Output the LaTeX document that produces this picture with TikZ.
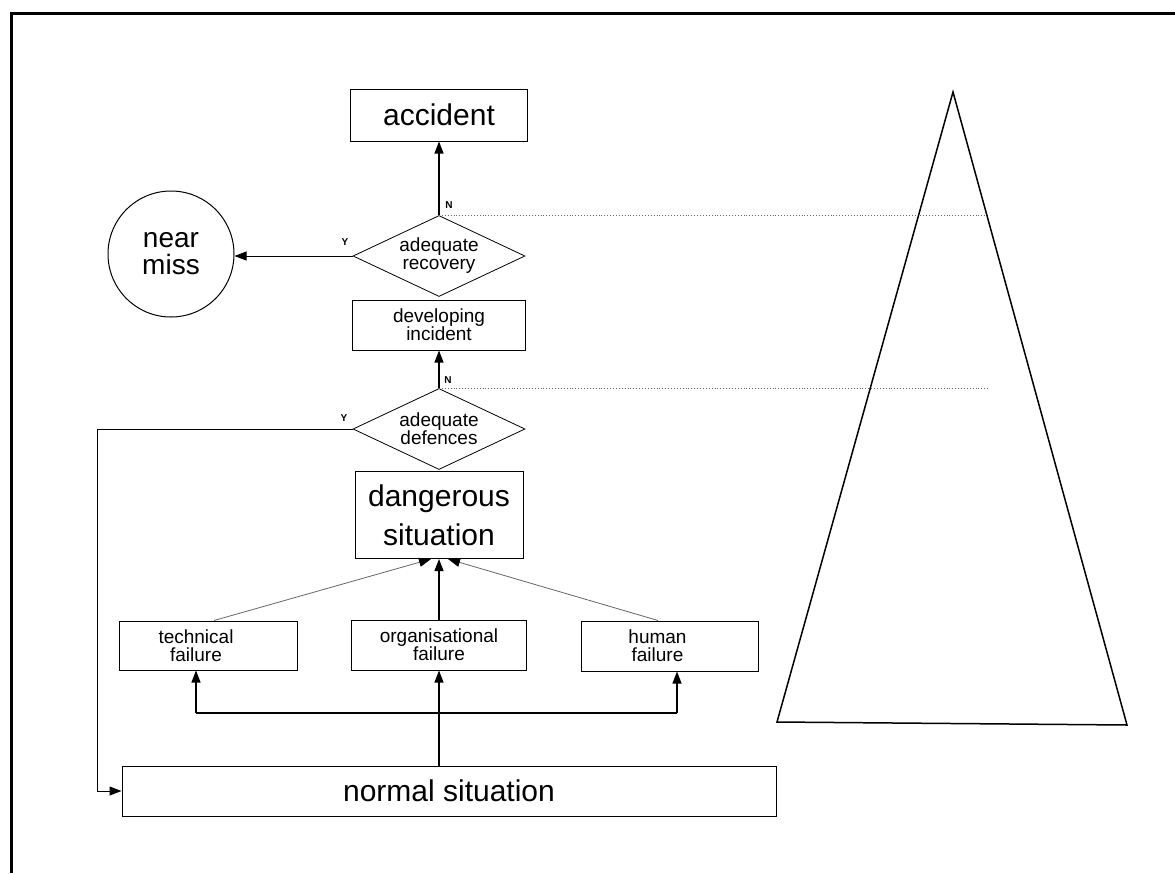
\documentclass[tikz,border=0pt]{standalone}
\usepackage{fontspec}
\setmainfont{Liberation Sans}
\usetikzlibrary{arrows.meta,shapes.geometric}
\begin{document}
\begin{tikzpicture}[x=1pt,y=-1pt,
  box/.style={draw,line width=1pt,inner sep=0pt},
  big/.style={font=\fontsize{30}{39}\selectfont,align=center},
  small/.style={font=\fontsize{19}{18}\selectfont,align=center,inner sep=0pt},
  dia/.style={draw,diamond,shape aspect=2.1,line width=0.8pt,inner sep=0pt,minimum width=172pt,minimum height=81pt},
  yn/.style={font=\fontsize{10}{10}\selectfont\bfseries,inner sep=0pt},
  tip/.style={-{Triangle[length=12pt,width=9pt,black]}},
  arr/.style={tip,line width=1.2pt},
  thinarr/.style={tip,line width=0.8pt,draw=black!60},
  dots/.style={dotted,line width=0.9pt,black!60}
]
\useasboundingbox (0,0) rectangle (1175,873);
% frame
\draw[line width=3pt] (11,873) -- (11,13) -- (1175,13);

% nodes
\node[box,big,minimum width=177pt,minimum height=52pt] (acc) at (439,115) {accident};
\node[draw,circle,line width=1pt,minimum size=126pt,inner sep=0pt,
      font=\fontsize{28}{27}\selectfont,align=center] (near) at (171,254) {near\\miss};
\node[dia,small] (rec) at (439,256) {adequate\\recovery};
\node[box,small,minimum width=173pt,minimum height=50pt] (dev) at (439,325) {developing\\incident};
\node[dia,small] (def) at (439,429) {adequate\\defences};
\node[box,big,minimum width=168pt,minimum height=87pt] (dang) at (439,515) {dangerous\\situation};
\node[box,minimum width=178pt,minimum height=49pt] (tech) at (208,645.5) {};
\node[small] (techt) at ([xshift=-12pt]tech.center) {technical\\failure};
\node[box,small,minimum width=175pt,minimum height=50pt] (org) at (439,645) {organisational\\failure};
\node[box,minimum width=177pt,minimum height=50pt] (hum) at (669.5,646) {};
\node[small] (humt) at ([xshift=-12pt]hum.center) {human\\failure};
\node[box,big,minimum width=654pt,minimum height=50pt] (norm) at (449,791) {normal situation};

% Y / N labels
\node[yn] (n1) at (449,205) {N};
\node[yn] (y1) at (345,242) {Y};
\node[yn] (n2) at (448,380) {N};
\node[yn] (y2) at (344,418) {Y};

% connectors
\draw[arr] (rec.north) -- (acc.south);
\draw[arr,line width=1pt] (rec.west) -- (rec.west -| near.east);
\draw[arr] (def.north) -- (dev.south);
\coordinate (yc) at (97,429);
\draw[arr,line width=1pt] (def.west) -- (yc) |- (norm.west);

% dotted level lines
\coordinate (e1) at (990,0);
\draw[dots] (rec.north) -- (rec.north -| e1);
\draw[dots] (def.north) -- (def.north -| e1);

% causes into dangerous situation
\draw[thinarr] ([xshift=6pt]tech.north) -- ([xshift=-8pt]dang.south);
\draw[arr] (org.north) -- (dang.south);
\draw[thinarr] ([xshift=-11.5pt]hum.north) -- ([xshift=9pt]dang.south);

% normal situation feeding failures
\coordinate (hl) at (196,713);
\coordinate (hr) at (677,713);
\draw[line width=1.3pt] (hl) -- (hr);
\draw[arr] (hl) -- (hl |- tech.south);
\draw[arr] (hr) -- (hr |- hum.south);
\draw[arr] (norm.north -| org.south) -- (org.south);

% triangle
\draw[line width=1.5pt,line join=miter] (953,92) -- (1127,725) -- (777,722) -- cycle;
\end{tikzpicture}
\end{document}
